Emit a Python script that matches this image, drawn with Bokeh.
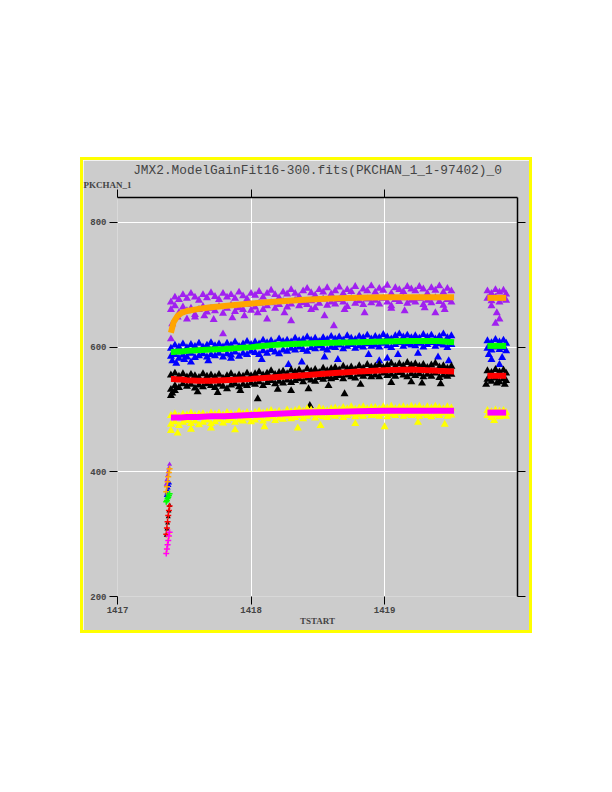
from bokeh.plotting import figure
from bokeh.models import LinearAxis, FixedTicker, Range1d, Title, Label
from bokeh.embed import file_html
from bokeh.resources import INLINE

TITLE = "JMX2.ModelGainFit16-300.fits(PKCHAN_1_1-97402)_0"
Y_LABEL = "PKCHAN_1"
X_LABEL = "TSTART"
X_TICKS = [1417, 1418, 1419]
Y_TICKS = [200, 400, 600, 800]

# shared sample times of the main band
T = [1417.40, 1417.43, 1417.46, 1417.49, 1417.52, 1417.55, 1417.58, 1417.61, 1417.64, 1417.67, 1417.70,
     1417.73, 1417.76, 1417.79, 1417.82, 1417.85, 1417.88, 1417.91, 1417.94, 1417.97, 1418.00,
     1418.03, 1418.06, 1418.09, 1418.12, 1418.15, 1418.18, 1418.21, 1418.24, 1418.27, 1418.30,
     1418.33, 1418.36, 1418.39, 1418.42, 1418.45, 1418.48, 1418.51, 1418.54, 1418.57, 1418.60,
     1418.63, 1418.66, 1418.69, 1418.72, 1418.75, 1418.78, 1418.81, 1418.84, 1418.87, 1418.90,
     1418.93, 1418.96, 1418.99, 1419.02, 1419.05, 1419.08, 1419.11, 1419.14, 1419.17, 1419.20,
     1419.23, 1419.26, 1419.29, 1419.32, 1419.35, 1419.38, 1419.41, 1419.44, 1419.47, 1419.50]
# second group of times
T2 = [1419.77, 1419.80, 1419.83, 1419.86, 1419.89, 1419.91]
# early ramp-up times
TE = [1417.365, 1417.37, 1417.375, 1417.38, 1417.385, 1417.39]

purple_a = [672, 680, 676, 684, 678, 686, 680, 675, 684, 679, 687,
            681, 676, 686, 680, 684, 678, 688, 682, 677, 686,
            683, 689, 680, 686, 691, 684, 679, 688, 685, 692,
            686, 681, 690, 694, 687, 683, 692, 688, 695, 685,
            690, 696, 686, 692, 689, 697, 684, 693, 690, 698,
            688, 694, 691, 699, 686, 695, 692, 689, 697, 693,
            690, 697, 693, 686, 695, 691, 698, 688, 694, 690]
purple_b = [660, 666, 655, 664, 658, 662, 652, 660, 665, 656, 662,
            658, 665, 654, 662, 667, 657, 663, 660, 668, 659,
            664, 670, 660, 666, 671, 662, 668, 673, 664, 669,
            675, 666, 671, 668, 674, 663, 670, 677, 667, 672,
            669, 676, 672, 665, 678, 670, 674, 668, 677, 671,
            675, 669, 678, 672, 666, 676, 673, 679, 670, 675,
            672, 678, 668, 675, 671, 679, 673, 667, 676, 672]
purple2_a = [690, 686, 692, 688, 691, 685]
purple2_b = [678, 674, 680, 672, 677, 675]
purple_e = [380, 387, 394, 400, 406, 412]
purple_out_t = [1417.40, 1417.41, 1417.45, 1417.52, 1417.58, 1417.65, 1417.72, 1417.79, 1417.86, 1417.95,
                1418.05, 1418.12, 1418.25, 1418.30, 1418.45, 1418.55, 1418.62, 1418.70, 1418.85, 1419.05,
                1419.15, 1419.30, 1419.38, 1419.45, 1419.80, 1419.84, 1419.86, 1419.83]
purple_out = [613, 637, 648, 645, 648, 650, 644, 621, 647, 650,
              655, 645, 655, 642, 660, 650, 634, 660, 655, 662,
              658, 663, 655, 660, 666, 655, 645, 638]

blue_a = [598, 603, 600, 605, 599, 604, 601, 606, 600, 603, 607,
          602, 605, 600, 606, 603, 608, 601, 605, 609, 604,
          608, 605, 611, 607, 610, 606, 613, 609, 611, 608,
          614, 610, 612, 616, 611, 614, 609, 615, 612, 617,
          613, 616, 611, 618, 614, 612, 617, 615, 619, 613,
          617, 615, 620, 616, 613, 618, 621, 616, 619, 615,
          618, 614, 620, 616, 619, 613, 617, 621, 615, 618]
blue_b = [585, 588, 582, 587, 584, 590, 583, 586, 589, 584, 588,
          586, 590, 584, 589, 587, 592, 585, 590, 588, 593,
          591, 588, 594, 590, 596, 592, 589, 595, 593, 598,
          595, 600, 596, 593, 599, 597, 602, 598, 595, 600,
          599, 603, 597, 601, 604, 598, 602, 600, 605, 601,
          603, 600, 606, 602, 599, 604, 607, 601, 605, 603,
          602, 606, 600, 604, 607, 601, 605, 603, 599, 604]
blue2_a = [610, 607, 612, 608, 611, 606]
blue2_b = [598, 595, 600, 596, 599, 594]
blue_e = [362, 366, 370, 374, 378, 382]
blue_out_t = [1417.41, 1417.44, 1417.50, 1417.55, 1417.68, 1417.85, 1418.08, 1418.28, 1418.38, 1418.55,
              1418.65, 1418.88, 1418.96, 1419.02, 1419.10, 1419.25, 1419.40, 1419.48, 1419.78, 1419.80,
              1419.86, 1419.88]
blue_out = [578, 574, 580, 576, 578, 582, 580, 572, 576, 584,
            580, 588, 578, 582, 588, 590, 584, 578, 588, 580,
            572, 583]

black_a = [555, 558, 553, 557, 552, 556, 554, 551, 557, 553, 555,
           552, 556, 550, 554, 557, 552, 555, 553, 558, 554,
           557, 560, 555, 558, 562, 556, 559, 561, 557, 563,
           560, 563, 558, 565, 561, 564, 559, 566, 562, 565,
           567, 563, 569, 565, 568, 564, 570, 566, 572, 568,
           569, 572, 567, 571, 574, 569, 573, 570, 575, 571,
           573, 569, 572, 567, 571, 574, 568, 570, 566, 569]
black_b = [532, 538, 535, 541, 537, 540, 534, 539, 536, 541, 538,
           535, 540, 537, 533, 539, 541, 536, 540, 538, 542,
           540, 544, 538, 543, 546, 541, 545, 542, 547, 543,
           546, 549, 544, 550, 547, 545, 551, 548, 552, 549,
           551, 554, 549, 555, 552, 550, 556, 553, 557, 552,
           555, 552, 558, 554, 556, 553, 559, 555, 552, 557,
           554, 557, 552, 556, 553, 558, 551, 555, 553, 556]
black2_a = [562, 559, 564, 560, 563, 558]
black2_b = [548, 545, 550, 544, 549, 546]
black_e = [298, 308, 318, 328, 337, 346]
black_out_t = [1417.40, 1417.41, 1417.43, 1417.60, 1417.75, 1417.92, 1418.05, 1418.20, 1418.30, 1418.43,
               1418.44, 1418.58, 1418.70, 1418.82, 1419.05, 1419.20, 1419.28, 1419.42, 1419.76, 1419.84,
               1419.90]
black_out = [522, 526, 530, 528, 527, 530, 517, 532, 530, 533,
             506, 538, 525, 540, 543, 544, 542, 541, 540, 542,
             540]

yellow_a = [490, 493, 489, 492, 491, 494, 490, 492, 493, 490, 494,
            492, 494, 491, 495, 493, 491, 496, 493, 495, 492,
            495, 497, 494, 496, 498, 495, 497, 494, 499, 496,
            498, 500, 497, 501, 499, 497, 502, 500, 498, 501,
            502, 500, 503, 501, 504, 500, 502, 504, 501, 503,
            503, 501, 504, 502, 505, 501, 503, 504, 502, 505,
            503, 505, 501, 504, 502, 505, 503, 501, 504, 502]
yellow_b = [476, 480, 474, 479, 482, 477, 481, 475, 479, 483, 477,
            480, 484, 478, 482, 485, 479, 483, 481, 486, 480,
            483, 487, 481, 485, 488, 482, 486, 484, 489, 485,
            487, 490, 485, 489, 492, 486, 490, 488, 487, 491,
            489, 492, 487, 490, 493, 488, 491, 489, 494, 490,
            491, 489, 493, 488, 492, 490, 494, 489, 492, 490,
            492, 489, 493, 490, 488, 492, 490, 494, 489, 491]
yellow2_a = [498, 496, 499, 497, 498, 495]
yellow2_b = [490, 487, 491, 488, 490, 489]
yellow_e = [270, 277, 284, 291, 297, 303]
yellow_out_t = [1417.40, 1417.45, 1417.55, 1417.70, 1417.88, 1418.10, 1418.35, 1418.52, 1418.78, 1419.00,
                1419.25, 1419.45, 1419.82]
yellow_out = [466, 462, 468, 470, 467, 472, 470, 474, 477, 472, 479, 476, 482]

# fitted model curves
FT = [1417.40, 1417.42, 1417.45, 1417.48, 1417.52, 1417.60, 1417.70, 1417.80, 1418.00, 1418.20,
      1418.40, 1418.60, 1418.80, 1419.00, 1419.20, 1419.40, 1419.52]
orange_fit = [623, 640, 650, 655, 658, 661, 664, 666, 670, 673, 676, 678, 679, 680, 680, 680, 680]
green_fit = [592, 592, 593, 593, 594, 595, 596, 597, 600, 604, 606, 607, 608, 609, 610, 610, 608]
red_fit = [549, 549, 548, 548, 547, 546, 546, 547, 549, 552, 555, 558, 561, 563, 564, 562, 561]
magenta_fit = [487, 487, 487, 487, 488, 488, 489, 489, 491, 493, 495, 496, 497, 498, 498, 498, 498]
FT2 = [1419.77, 1419.91]
orange_fit2 = [679, 679]
green_fit2 = [602, 602]
red_fit2 = [554, 554]
magenta_fit2 = [495, 495]
orange_e = [368, 376, 384, 392, 399, 405]
green_e = [352, 354, 357, 359, 362, 365]
red_e = [300, 310, 320, 330, 338, 345]
magenta_e = [269, 276, 283, 290, 297, 303]

GRAY = "#cccccc"
# canvas 452x476 drawn inside a 3px yellow border (border-box), so the
# visible grey panel is 446x470; frame stays 400x400
p = figure(width=452, height=476,
           x_range=Range1d(1417, 1419.995), y_range=Range1d(200, 840),
           output_backend="svg", toolbar_location=None,
           min_border_left=34, min_border_right=18, min_border_top=36, min_border_bottom=40,
           background_fill_color=GRAY, border_fill_color=GRAY, outline_line_color=None)

p.title.text = TITLE
p.title.text_font = "Liberation Mono"
p.title.text_font_size = "12.8px"
p.title.text_font_style = "normal"
p.title.align = "center"
p.title.standoff = 0

TICK_FONT = "Liberation Mono"
for ax in p.xaxis:
    ax.ticker = FixedTicker(ticks=X_TICKS)
    ax.axis_line_color = None
    ax.major_tick_out = 8
    ax.major_tick_in = 0
    ax.minor_tick_line_color = None
    ax.major_tick_line_color = "black"
    ax.major_label_text_font = TICK_FONT
    ax.major_label_text_font_style = "bold"
    ax.major_label_text_font_size = "9px"
    ax.major_label_standoff = 2
    ax.axis_label = X_LABEL
    ax.axis_label_text_font = "Liberation Serif"
    ax.axis_label_text_font_style = "bold"
    ax.axis_label_text_font_size = "9px"
    ax.axis_label_standoff = 0
for ax in p.yaxis:
    ax.ticker = FixedTicker(ticks=Y_TICKS)
    ax.axis_line_color = None
    ax.major_tick_out = 8
    ax.major_tick_in = 0
    ax.minor_tick_line_color = None
    ax.major_tick_line_color = "black"
    ax.major_label_text_font = TICK_FONT
    ax.major_label_text_font_style = "bold"
    ax.major_label_text_font_size = "9px"
    ax.major_label_standoff = 3
    ax.major_label_orientation = "horizontal"

top_axis = LinearAxis(ticker=FixedTicker(ticks=X_TICKS), axis_line_color="black", axis_line_width=1.5,
                      major_tick_out=8, major_tick_in=0, minor_tick_line_color=None,
                      major_label_text_color=None, major_label_text_font_size="1px", major_label_standoff=0)
right_axis = LinearAxis(ticker=FixedTicker(ticks=Y_TICKS), axis_line_color="black", axis_line_width=1.5,
                        major_tick_out=8, major_tick_in=0, minor_tick_line_color=None,
                        major_label_text_color=None, major_label_text_font_size="1px", major_label_standoff=0)
p.add_layout(top_axis, "above")
p.add_layout(right_axis, "right")
p.add_layout(Title(text=Y_LABEL, align="left", offset=-34, standoff=0,
                   text_font="Liberation Serif", text_font_style="bold", text_font_size="9px"), "above")

p.xgrid.grid_line_color = "white"
p.ygrid.grid_line_color = "white"
p.xgrid.grid_line_width = 1
p.ygrid.grid_line_width = 1

MS = 8
series = [
    ("#a020f0", purple_a, purple_b, purple2_a, purple2_b, purple_e, purple_out_t, purple_out),
    ("#0000ff", blue_a, blue_b, blue2_a, blue2_b, blue_e, blue_out_t, blue_out),
    ("#000000", black_a, black_b, black2_a, black2_b, black_e, black_out_t, black_out),
    ("#ffff00", yellow_a, yellow_b, yellow2_a, yellow2_b, yellow_e, yellow_out_t, yellow_out),
]
for col, ma, mb, sa, sb, early, ot, ov in series:
    for xs, ys in ((T, ma), (T, mb), (T2, sa), (T2, sb), (ot, ov)):
        p.scatter(xs, ys, marker="triangle", size=MS, color=col, line_width=0)
    p.scatter(TE, early, marker="triangle", size=5, color=col, line_width=0)

fits = [
    ("#ffa500", orange_fit, orange_fit2, orange_e),
    ("#00ff00", green_fit, green_fit2, green_e),
    ("#ff0000", red_fit, red_fit2, red_e),
    ("#ff00ff", magenta_fit, magenta_fit2, magenta_e),
]
for col, f, f2, fe in fits:
    p.line(FT, f, line_color=col, line_width=6)
    p.line(FT2, f2, line_color=col, line_width=6)
    p.scatter(TE, fe, marker="cross", size=6, line_color=col, line_width=1.5)

# small resize grip in the lower-right corner
grip = Label(x=405, y=-27, x_units="screen", y_units="screen", text="↘",
             text_font="DejaVu Sans", text_font_size="10px", text_color="black",
             text_align="center", text_baseline="middle", text_font_style="bold",
             background_fill_color="#e6e6e6", border_line_color="#555555",
             padding=1, level="overlay")
p.add_layout(grip)

p.styles = {"position": "absolute", "left": "80px", "top": "157px",
            "border": "3px solid #ffff00", "overflow": "hidden"}

open("out.html", "w").write(file_html(p, INLINE))
